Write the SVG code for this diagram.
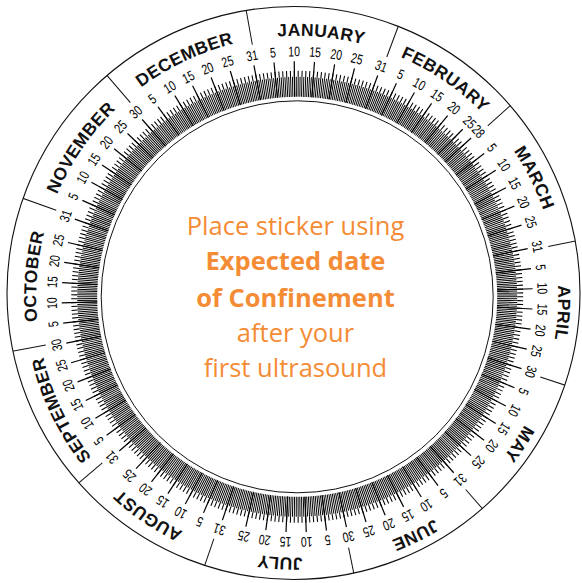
<svg xmlns="http://www.w3.org/2000/svg" xmlns:xlink="http://www.w3.org/1999/xlink" width="582" height="583" viewBox="0 0 582 583">
<style>
.n{font-family:"Liberation Sans",Arial,sans-serif;font-size:14px;fill:#000;text-anchor:middle}
.m{font-family:"Liberation Sans",Arial,sans-serif;font-size:17.5px;font-weight:bold;fill:#111;text-anchor:middle;letter-spacing:0.4px}
.c{font-family:"Open Sans","Noto Sans",sans-serif;font-size:25.5px;fill:#F48C36;text-anchor:middle}
.cb{font-weight:bold;font-size:25.5px}
.mt{stroke:#000;stroke-width:1.2}
.dv{stroke:#111;stroke-width:1}
</style>
<defs>
<path id="mp" d="M297.2,557.8 A261,261 0 0 1 297.2,35.8 A261,261 0 0 1 297.2,557.8"/>
<line id="mt" class="mt" x1="297.2" y1="96.8" x2="297.2" y2="61.3"/>
<line id="dv" class="dv" x1="297.2" y1="40.8" x2="297.2" y2="-12"/>
<clipPath id="oc"><circle cx="293.5" cy="293" r="286.5"/></clipPath>
</defs>
<rect width="582" height="583" fill="#fff"/>
<g id="wheel" fill="none" stroke="#111">
<circle cx="293.5" cy="293" r="286.5" stroke-width="1.1"/>
<circle cx="297.2" cy="296.8" r="196" stroke-width="1"/>
</g>
<g id="ticks" fill="none" stroke="#000">
<circle cx="297.2" cy="296.8" r="210" stroke-width="20" pathLength="730" stroke-dasharray="0.55 0.45" transform="rotate(-99.736 297.2 296.8)"/>
<circle cx="297.2" cy="296.8" r="223" stroke-width="6" pathLength="365" stroke-dasharray="0.275 0.725" transform="rotate(-99.736 297.2 296.8)"/>
</g>
<g id="connectors" clip-path="url(#oc)">
<use href="#dv" transform="rotate(-10.093 297.2 296.8)"/>
<use href="#dv" transform="rotate(20.482 297.2 296.8)"/>
<use href="#dv" transform="rotate(48.099 297.2 296.8)"/>
<use href="#dv" transform="rotate(78.674 297.2 296.8)"/>
<use href="#dv" transform="rotate(108.263 297.2 296.8)"/>
<use href="#dv" transform="rotate(138.838 297.2 296.8)"/>
<use href="#dv" transform="rotate(168.427 297.2 296.8)"/>
<use href="#dv" transform="rotate(199.003 297.2 296.8)"/>
<use href="#dv" transform="rotate(229.578 297.2 296.8)"/>
<use href="#dv" transform="rotate(259.167 297.2 296.8)"/>
<use href="#dv" transform="rotate(289.742 297.2 296.8)"/>
<use href="#dv" transform="rotate(319.332 297.2 296.8)"/>
</g>
<g id="jan">
<text class="m" transform="rotate(5.195 297.2 296.8)"><textPath href="#mp" startOffset="50%">JANUARY</textPath></text>
<use href="#mt" transform="rotate(-5.655 297.2 296.8)"/><use href="#mt" transform="rotate(-0.723 297.2 296.8)"/><use href="#mt" transform="rotate(4.208 297.2 296.8)"/><use href="#mt" transform="rotate(9.140 297.2 296.8)"/><use href="#mt" transform="rotate(14.071 297.2 296.8)"/><use href="#mt" transform="rotate(19.989 297.2 296.8)"/>
<text class="n" transform="rotate(-5.655 297.2 296.8) translate(297.2 56.3) scale(0.75 1)">5</text>
<text class="n" transform="rotate(-0.723 297.2 296.8) translate(297.2 56.3) scale(0.75 1)">10</text>
<text class="n" transform="rotate(4.208 297.2 296.8) translate(297.2 56.3) scale(0.75 1)">15</text>
<text class="n" transform="rotate(9.140 297.2 296.8) translate(297.2 56.3) scale(0.75 1)">20</text>
<text class="n" transform="rotate(14.071 297.2 296.8) translate(297.2 56.3) scale(0.75 1)">25</text>
<text class="n" transform="rotate(19.989 297.2 296.8) translate(297.2 56.3) scale(0.75 1)">31</text>
</g>
<g id="feb">
<text class="m" transform="rotate(34.290 297.2 296.8)"><textPath href="#mp" startOffset="50%">FEBRUARY</textPath></text>
<use href="#mt" transform="rotate(24.921 297.2 296.8)"/><use href="#mt" transform="rotate(29.852 297.2 296.8)"/><use href="#mt" transform="rotate(34.784 297.2 296.8)"/><use href="#mt" transform="rotate(39.715 297.2 296.8)"/><use href="#mt" transform="rotate(44.647 297.2 296.8)"/><use href="#mt" transform="rotate(47.605 297.2 296.8)"/>
<text class="n" transform="rotate(24.921 297.2 296.8) translate(297.2 56.3) scale(0.75 1)">5</text>
<text class="n" transform="rotate(29.852 297.2 296.8) translate(297.2 56.3) scale(0.75 1)">10</text>
<text class="n" transform="rotate(34.784 297.2 296.8) translate(297.2 56.3) scale(0.75 1)">15</text>
<text class="n" transform="rotate(39.715 297.2 296.8) translate(297.2 56.3) scale(0.75 1)">20</text>
<text class="n" transform="rotate(44.647 297.2 296.8) translate(297.2 56.3) scale(0.75 1)">25</text>
<text class="n" transform="rotate(47.605 297.2 296.8) translate(297.2 56.3) scale(0.75 1)">28</text>
</g>
<g id="mar">
<text class="m" transform="rotate(63.386 297.2 296.8)"><textPath href="#mp" startOffset="50%">MARCH</textPath></text>
<use href="#mt" transform="rotate(52.537 297.2 296.8)"/><use href="#mt" transform="rotate(57.468 297.2 296.8)"/><use href="#mt" transform="rotate(62.400 297.2 296.8)"/><use href="#mt" transform="rotate(67.332 297.2 296.8)"/><use href="#mt" transform="rotate(72.263 297.2 296.8)"/><use href="#mt" transform="rotate(78.181 297.2 296.8)"/>
<text class="n" transform="rotate(52.537 297.2 296.8) translate(297.2 56.3) scale(0.75 1)">5</text>
<text class="n" transform="rotate(57.468 297.2 296.8) translate(297.2 56.3) scale(0.75 1)">10</text>
<text class="n" transform="rotate(62.400 297.2 296.8) translate(297.2 56.3) scale(0.75 1)">15</text>
<text class="n" transform="rotate(67.332 297.2 296.8) translate(297.2 56.3) scale(0.75 1)">20</text>
<text class="n" transform="rotate(72.263 297.2 296.8) translate(297.2 56.3) scale(0.75 1)">25</text>
<text class="n" transform="rotate(78.181 297.2 296.8) translate(297.2 56.3) scale(0.75 1)">31</text>
</g>
<g id="apr">
<text class="m" transform="rotate(93.468 297.2 296.8)"><textPath href="#mp" startOffset="50%">APRIL</textPath></text>
<use href="#mt" transform="rotate(83.112 297.2 296.8)"/><use href="#mt" transform="rotate(88.044 297.2 296.8)"/><use href="#mt" transform="rotate(92.975 297.2 296.8)"/><use href="#mt" transform="rotate(97.907 297.2 296.8)"/><use href="#mt" transform="rotate(102.838 297.2 296.8)"/><use href="#mt" transform="rotate(107.770 297.2 296.8)"/>
<text class="n" transform="rotate(83.112 297.2 296.8) translate(297.2 56.3) scale(0.75 1)">5</text>
<text class="n" transform="rotate(88.044 297.2 296.8) translate(297.2 56.3) scale(0.75 1)">10</text>
<text class="n" transform="rotate(92.975 297.2 296.8) translate(297.2 56.3) scale(0.75 1)">15</text>
<text class="n" transform="rotate(97.907 297.2 296.8) translate(297.2 56.3) scale(0.75 1)">20</text>
<text class="n" transform="rotate(102.838 297.2 296.8) translate(297.2 56.3) scale(0.75 1)">25</text>
<text class="n" transform="rotate(107.770 297.2 296.8) translate(297.2 56.3) scale(0.75 1)">30</text>
</g>
<g id="may">
<text class="m" transform="rotate(123.551 297.2 296.8)"><textPath href="#mp" startOffset="50%">MAY</textPath></text>
<use href="#mt" transform="rotate(112.701 297.2 296.8)"/><use href="#mt" transform="rotate(117.633 297.2 296.8)"/><use href="#mt" transform="rotate(122.564 297.2 296.8)"/><use href="#mt" transform="rotate(127.496 297.2 296.8)"/><use href="#mt" transform="rotate(132.427 297.2 296.8)"/><use href="#mt" transform="rotate(138.345 297.2 296.8)"/>
<text class="n" transform="rotate(112.701 297.2 296.8) translate(297.2 56.3) scale(0.75 1)">5</text>
<text class="n" transform="rotate(117.633 297.2 296.8) translate(297.2 56.3) scale(0.75 1)">10</text>
<text class="n" transform="rotate(122.564 297.2 296.8) translate(297.2 56.3) scale(0.75 1)">15</text>
<text class="n" transform="rotate(127.496 297.2 296.8) translate(297.2 56.3) scale(0.75 1)">20</text>
<text class="n" transform="rotate(132.427 297.2 296.8) translate(297.2 56.3) scale(0.75 1)">25</text>
<text class="n" transform="rotate(138.345 297.2 296.8) translate(297.2 56.3) scale(0.75 1)">31</text>
</g>
<g id="jun">
<text class="m" transform="rotate(153.633 297.2 296.8)"><textPath href="#mp" startOffset="50%">JUNE</textPath></text>
<use href="#mt" transform="rotate(143.277 297.2 296.8)"/><use href="#mt" transform="rotate(148.208 297.2 296.8)"/><use href="#mt" transform="rotate(153.140 297.2 296.8)"/><use href="#mt" transform="rotate(158.071 297.2 296.8)"/><use href="#mt" transform="rotate(163.003 297.2 296.8)"/><use href="#mt" transform="rotate(167.934 297.2 296.8)"/>
<text class="n" transform="rotate(143.277 297.2 296.8) translate(297.2 56.3) scale(0.75 1)">5</text>
<text class="n" transform="rotate(148.208 297.2 296.8) translate(297.2 56.3) scale(0.75 1)">10</text>
<text class="n" transform="rotate(153.140 297.2 296.8) translate(297.2 56.3) scale(0.75 1)">15</text>
<text class="n" transform="rotate(158.071 297.2 296.8) translate(297.2 56.3) scale(0.75 1)">20</text>
<text class="n" transform="rotate(163.003 297.2 296.8) translate(297.2 56.3) scale(0.75 1)">25</text>
<text class="n" transform="rotate(167.934 297.2 296.8) translate(297.2 56.3) scale(0.75 1)">30</text>
</g>
<g id="jul">
<text class="m" transform="rotate(183.715 297.2 296.8)"><textPath href="#mp" startOffset="50%">JULY</textPath></text>
<use href="#mt" transform="rotate(172.866 297.2 296.8)"/><use href="#mt" transform="rotate(177.797 297.2 296.8)"/><use href="#mt" transform="rotate(182.729 297.2 296.8)"/><use href="#mt" transform="rotate(187.660 297.2 296.8)"/><use href="#mt" transform="rotate(192.592 297.2 296.8)"/><use href="#mt" transform="rotate(198.510 297.2 296.8)"/>
<text class="n" transform="rotate(172.866 297.2 296.8) translate(297.2 56.3) scale(0.75 1)">5</text>
<text class="n" transform="rotate(177.797 297.2 296.8) translate(297.2 56.3) scale(0.75 1)">10</text>
<text class="n" transform="rotate(182.729 297.2 296.8) translate(297.2 56.3) scale(0.75 1)">15</text>
<text class="n" transform="rotate(187.660 297.2 296.8) translate(297.2 56.3) scale(0.75 1)">20</text>
<text class="n" transform="rotate(192.592 297.2 296.8) translate(297.2 56.3) scale(0.75 1)">25</text>
<text class="n" transform="rotate(198.510 297.2 296.8) translate(297.2 56.3) scale(0.75 1)">31</text>
</g>
<g id="aug">
<text class="m" transform="rotate(214.290 297.2 296.8)"><textPath href="#mp" startOffset="50%">AUGUST</textPath></text>
<use href="#mt" transform="rotate(203.441 297.2 296.8)"/><use href="#mt" transform="rotate(208.373 297.2 296.8)"/><use href="#mt" transform="rotate(213.304 297.2 296.8)"/><use href="#mt" transform="rotate(218.236 297.2 296.8)"/><use href="#mt" transform="rotate(223.167 297.2 296.8)"/><use href="#mt" transform="rotate(229.085 297.2 296.8)"/>
<text class="n" transform="rotate(203.441 297.2 296.8) translate(297.2 56.3) scale(0.75 1)">5</text>
<text class="n" transform="rotate(208.373 297.2 296.8) translate(297.2 56.3) scale(0.75 1)">10</text>
<text class="n" transform="rotate(213.304 297.2 296.8) translate(297.2 56.3) scale(0.75 1)">15</text>
<text class="n" transform="rotate(218.236 297.2 296.8) translate(297.2 56.3) scale(0.75 1)">20</text>
<text class="n" transform="rotate(223.167 297.2 296.8) translate(297.2 56.3) scale(0.75 1)">25</text>
<text class="n" transform="rotate(229.085 297.2 296.8) translate(297.2 56.3) scale(0.75 1)">31</text>
</g>
<g id="sep">
<text class="m" transform="rotate(244.373 297.2 296.8)"><textPath href="#mp" startOffset="50%">SEPTEMBER</textPath></text>
<use href="#mt" transform="rotate(234.016 297.2 296.8)"/><use href="#mt" transform="rotate(238.948 297.2 296.8)"/><use href="#mt" transform="rotate(243.879 297.2 296.8)"/><use href="#mt" transform="rotate(248.811 297.2 296.8)"/><use href="#mt" transform="rotate(253.742 297.2 296.8)"/><use href="#mt" transform="rotate(258.674 297.2 296.8)"/>
<text class="n" transform="rotate(234.016 297.2 296.8) translate(297.2 56.3) scale(0.75 1)">5</text>
<text class="n" transform="rotate(238.948 297.2 296.8) translate(297.2 56.3) scale(0.75 1)">10</text>
<text class="n" transform="rotate(243.879 297.2 296.8) translate(297.2 56.3) scale(0.75 1)">15</text>
<text class="n" transform="rotate(248.811 297.2 296.8) translate(297.2 56.3) scale(0.75 1)">20</text>
<text class="n" transform="rotate(253.742 297.2 296.8) translate(297.2 56.3) scale(0.75 1)">25</text>
<text class="n" transform="rotate(258.674 297.2 296.8) translate(297.2 56.3) scale(0.75 1)">30</text>
</g>
<g id="oct">
<text class="m" transform="rotate(274.455 297.2 296.8)"><textPath href="#mp" startOffset="50%">OCTOBER</textPath></text>
<use href="#mt" transform="rotate(263.605 297.2 296.8)"/><use href="#mt" transform="rotate(268.537 297.2 296.8)"/><use href="#mt" transform="rotate(273.468 297.2 296.8)"/><use href="#mt" transform="rotate(278.400 297.2 296.8)"/><use href="#mt" transform="rotate(283.332 297.2 296.8)"/><use href="#mt" transform="rotate(289.249 297.2 296.8)"/>
<text class="n" transform="rotate(263.605 297.2 296.8) translate(297.2 56.3) scale(0.75 1)">5</text>
<text class="n" transform="rotate(268.537 297.2 296.8) translate(297.2 56.3) scale(0.75 1)">10</text>
<text class="n" transform="rotate(273.468 297.2 296.8) translate(297.2 56.3) scale(0.75 1)">15</text>
<text class="n" transform="rotate(278.400 297.2 296.8) translate(297.2 56.3) scale(0.75 1)">20</text>
<text class="n" transform="rotate(283.332 297.2 296.8) translate(297.2 56.3) scale(0.75 1)">25</text>
<text class="n" transform="rotate(289.249 297.2 296.8) translate(297.2 56.3) scale(0.75 1)">31</text>
</g>
<g id="nov">
<text class="m" transform="rotate(304.537 297.2 296.8)"><textPath href="#mp" startOffset="50%">NOVEMBER</textPath></text>
<use href="#mt" transform="rotate(294.181 297.2 296.8)"/><use href="#mt" transform="rotate(299.112 297.2 296.8)"/><use href="#mt" transform="rotate(304.044 297.2 296.8)"/><use href="#mt" transform="rotate(308.975 297.2 296.8)"/><use href="#mt" transform="rotate(313.907 297.2 296.8)"/><use href="#mt" transform="rotate(318.838 297.2 296.8)"/>
<text class="n" transform="rotate(294.181 297.2 296.8) translate(297.2 56.3) scale(0.75 1)">5</text>
<text class="n" transform="rotate(299.112 297.2 296.8) translate(297.2 56.3) scale(0.75 1)">10</text>
<text class="n" transform="rotate(304.044 297.2 296.8) translate(297.2 56.3) scale(0.75 1)">15</text>
<text class="n" transform="rotate(308.975 297.2 296.8) translate(297.2 56.3) scale(0.75 1)">20</text>
<text class="n" transform="rotate(313.907 297.2 296.8) translate(297.2 56.3) scale(0.75 1)">25</text>
<text class="n" transform="rotate(318.838 297.2 296.8) translate(297.2 56.3) scale(0.75 1)">30</text>
</g>
<g id="dec">
<text class="m" transform="rotate(334.619 297.2 296.8)"><textPath href="#mp" startOffset="50%">DECEMBER</textPath></text>
<use href="#mt" transform="rotate(323.770 297.2 296.8)"/><use href="#mt" transform="rotate(328.701 297.2 296.8)"/><use href="#mt" transform="rotate(333.633 297.2 296.8)"/><use href="#mt" transform="rotate(338.564 297.2 296.8)"/><use href="#mt" transform="rotate(343.496 297.2 296.8)"/><use href="#mt" transform="rotate(349.414 297.2 296.8)"/>
<text class="n" transform="rotate(323.770 297.2 296.8) translate(297.2 56.3) scale(0.75 1)">5</text>
<text class="n" transform="rotate(328.701 297.2 296.8) translate(297.2 56.3) scale(0.75 1)">10</text>
<text class="n" transform="rotate(333.633 297.2 296.8) translate(297.2 56.3) scale(0.75 1)">15</text>
<text class="n" transform="rotate(338.564 297.2 296.8) translate(297.2 56.3) scale(0.75 1)">20</text>
<text class="n" transform="rotate(343.496 297.2 296.8) translate(297.2 56.3) scale(0.75 1)">25</text>
<text class="n" transform="rotate(349.414 297.2 296.8) translate(297.2 56.3) scale(0.75 1)">31</text>
</g>
<g id="center-text">
<text class="c" x="295.5" y="235">Place sticker using</text>
<text class="c cb" x="295.5" y="270">Expected date</text>
<text class="c cb" x="295.5" y="306.5">of Confinement</text>
<text class="c" x="295.5" y="341.5">after your</text>
<text class="c" x="295.5" y="376.5">first ultrasound</text>
</g>
</svg>
